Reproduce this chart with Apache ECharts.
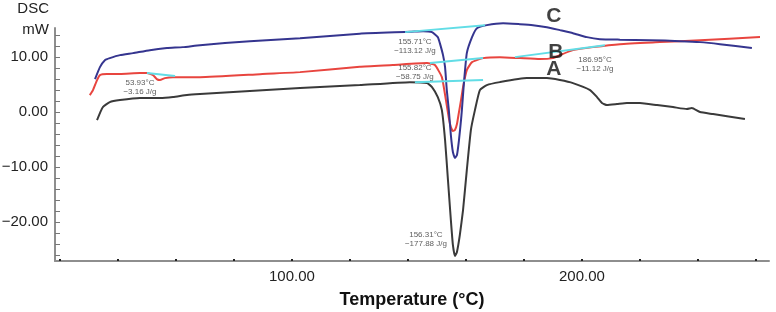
<!DOCTYPE html>
<html lang="en">
<head>
    <meta charset="UTF-8">
    <title>DSC</title>
    <script src="https://cdn.jsdelivr.net/npm/echarts@6/dist/echarts.min.js"></script>
    <style>
        html, body { margin: 0; padding: 0; background: #fff; }
        #dsc { width: 776px; height: 312px; }
    </style>
</head>
<body>
<div id="dsc"></div>
<script type="application/javascript">
    // curve C (blue)
    var curveCTemp = [32.1, 33.8, 35.5, 37.2, 40.7, 45.2, 51.0, 56.9, 62.4, 68.3, 85.5, 102.8, 123.4, 140.7, 145.2, 148.3, 150.3, 151.0, 152.1, 152.8, 153.4, 154.1, 154.8, 155.5, 156.2, 156.9, 157.6, 158.3, 158.6, 159.3, 160.3, 162.1, 163.8, 167.2, 172.8, 178.6, 183.1, 187.9, 192.4, 196.9, 201.7, 206.2, 213.1, 223.4, 233.8, 240.7, 247.6, 258.6];
    var curveCDsc = [6.0, 8.18, 9.45, 9.82, 10.36, 10.73, 11.27, 11.64, 11.82, 12.18, 12.91, 13.45, 14.27, 14.6, 14.73, 14.55, 13.64, 12.55, 10.36, 8.18, 4.0, 0.36, -4.18, -7.27, -8.36, -7.82, -5.09, -1.45, 0.36, 5.27, 10.73, 13.64, 15.27, 15.82, 16.18, 16.0, 15.82, 15.45, 14.91, 14.36, 13.64, 13.27, 13.18, 13.09, 12.91, 12.73, 12.36, 11.64];

    // curve B (red)
    var curveBTemp = [30.3, 31.4, 32.8, 33.8, 36.2, 40.7, 47.6, 50.0, 52.1, 53.4, 54.5, 56.2, 59.0, 68.3, 89.0, 102.8, 123.4, 134.8, 146.6, 149.3, 151.7, 153.1, 154.1, 154.8, 155.5, 156.2, 156.9, 157.6, 158.3, 159.0, 160.3, 162.1, 165.9, 171.7, 178.6, 185.5, 190.0, 192.4, 196.9, 203.8, 213.1, 226.9, 240.7, 261.4];
    var curveBDsc = [3.09, 4.0, 5.82, 6.73, 6.91, 6.91, 7.09, 7.09, 6.73, 6.0, 5.82, 6.18, 6.36, 6.36, 6.9, 7.27, 8.24, 8.55, 8.91, 8.55, 6.36, 2.18, -1.09, -2.73, -3.45, -3.27, -2.18, 0, 2.18, 4.55, 7.64, 9.09, 9.82, 10.0, 9.82, 9.64, 9.82, 10.36, 11.27, 11.82, 12.36, 12.73, 13.09, 13.64];

    // curve A (black)
    var curveATemp = [32.8, 33.8, 34.8, 37.2, 40.7, 47.6, 54.5, 59.0, 63.8, 68.3, 85.5, 102.8, 123.4, 140.7, 146.6, 148.3, 150.3, 151.7, 152.8, 153.8, 154.8, 155.5, 156.2, 156.9, 157.9, 159.0, 160.3, 161.7, 163.1, 164.8, 167.2, 171.7, 181.0, 187.9, 192.4, 196.9, 202.8, 205.2, 206.9, 208.6, 212.1, 215.5, 220.0, 225.9, 231.4, 236.2, 237.9, 240.7, 245.2, 256.2];
    var curveADsc = [-1.45, -0.18, 0.91, 1.82, 2.18, 2.55, 2.55, 2.73, 3.09, 3.27, 3.82, 4.36, 4.91, 5.45, 5.27, 4.55, 2.73, 0.36, -5.09, -12.36, -19.64, -24.18, -26.18, -25.45, -22.36, -17.82, -10.55, -3.27, 0.36, 4.0, 4.91, 5.45, 6.18, 6.18, 5.82, 5.27, 4.0, 2.73, 1.64, 1.27, 1.45, 1.64, 1.64, 1.27, 0.91, 0.55, 0.73, 0, -0.36, -1.27];

    // integration baselines: [startTemp, startDsc, endTemp, endDsc]
    var baselines = [
        [139.0, 14.55, 166.6, 15.82],
        [147.6, 8.91, 165.9, 9.82],
        [176.9, 10.0, 207.9, 12.18],
        [142.4, 5.45, 165.9, 5.82],
        [50.0, 7.09, 59.7, 6.55]
    ];

    // peak notes
    var noteTemp = [142.4, 142.4, 204.5, 47.6, 146.2];
    var noteDsc = [11.9, 7.18, 8.64, 4.55, -23.2];
    var noteText = [
        '155.71°C\n−113.12 J/g',
        '155.82°C\n−58.75 J/g',
        '186.95°C\n−11.12 J/g',
        '53.93°C\n−3.16 J/g',
        '156.31°C\n−177.88 J/g'
    ];

    // curve letters
    var letterTemp = [190.3, 191.0, 190.3];
    var letterDsc = [17.45, 10.9, 7.82];
    var letterText = ['C', 'B', 'A'];

    var xTicks = [20, 40, 60, 80, 100, 120, 140, 160, 180, 200, 220, 240, 260];
    var xLabels = [100, 200];
    var yTicks = [-26, -24, -22, -20, -18, -16, -14, -12, -10, -8, -6, -4, -2, 0, 2, 4, 6, 8, 10, 12, 14];
    var yLabels = [-20, -10, 0, 10];

    function zip(a, b) {
        return a.map(function (v, i) { return [v, b[i]]; });
    }

    function fmt(v) {
        var s = Math.abs(v).toFixed(2);
        return v < 0 ? '−' + s : s;
    }

    var font = 'Liberation Sans, Arial, sans-serif';

    var series = [
        {type: 'line', data: zip(curveATemp, curveADsc), color: '#3a3a3a'},
        {type: 'line', data: zip(curveBTemp, curveBDsc), color: '#e8453f'},
        {type: 'line', data: zip(curveCTemp, curveCDsc), color: '#35358f'}
    ].map(function (s) {
        s.showSymbol = false;
        s.clip = false;
        s.smooth = 0.15;
        s.lineStyle = {width: 2, color: s.color};
        return s;
    });

    baselines.forEach(function (b) {
        series.push({
            type: 'line',
            data: [[b[0], b[1]], [b[2], b[3]]],
            showSymbol: false,
            clip: false,
            lineStyle: {width: 2, color: '#62dde6'},
            z: 3
        });
    });

    series.push({
        type: 'scatter',
        symbolSize: 0,
        clip: false,
        data: noteTemp.map(function (t, i) { return {value: [t, noteDsc[i]], text: noteText[i]}; }),
        label: {
            show: true,
            position: 'inside',
            formatter: function (p) { return p.data.text; },
            fontFamily: font,
            fontSize: 8,
            lineHeight: 9,
            color: '#333',
            align: 'center'
        },
        z: 5
    });

    series.push({
        type: 'scatter',
        symbolSize: 0,
        clip: false,
        data: letterTemp.map(function (t, i) { return {value: [t, letterDsc[i]], text: letterText[i]}; }),
        label: {
            show: true,
            position: 'inside',
            formatter: function (p) { return p.data.text; },
            fontFamily: font,
            fontSize: 21,
            fontWeight: 'bold',
            color: '#111'
        },
        z: 6
    });

    var dscChart = echarts.init(document.getElementById('dsc'));
    dscChart.setOption({
        animation: false,
        backgroundColor: '#fff',
        grid: {left: 55, right: 7, top: 28, bottom: 51, containLabel: false, outerBoundsMode: 'none'},
        xAxis: {
            type: 'value',
            min: 18.3,
            max: 264.5,
            name: 'Temperature (°C)',
            nameLocation: 'middle',
            nameGap: 30,
            nameTextStyle: {fontFamily: font, fontSize: 18, fontWeight: 'bold', color: '#111'},
            axisLine: {onZero: false, lineStyle: {color: '#8e8e8e', width: 2}},
            axisTick: {show: true, inside: true, length: 2, customValues: xTicks, lineStyle: {color: '#222', width: 2}},
            axisLabel: {customValues: xLabels, formatter: fmt, fontFamily: font, fontSize: 15, color: '#222', margin: 8},
            splitLine: {show: false}
        },
        yAxis: {
            type: 'value',
            min: -27.1,
            max: 15.3,
            name: 'DSC\nmW',
            nameLocation: 'end',
            nameGap: 8.5,
            nameTextStyle: {fontFamily: font, fontSize: 15, color: '#222', align: 'right', verticalAlign: 'middle', lineHeight: 21, padding: [0, 6, 0, 0]},
            axisLine: {show: true, onZero: false, lineStyle: {color: '#8e8e8e', width: 2}},
            axisTick: {show: true, inside: true, length: 5, customValues: yTicks, lineStyle: {color: '#777', width: 1}},
            axisLabel: {customValues: yLabels, formatter: fmt, fontFamily: font, fontSize: 15, color: '#222', margin: 7},
            splitLine: {show: false}
        },
        series: series
    });
</script>
</body>
</html>
